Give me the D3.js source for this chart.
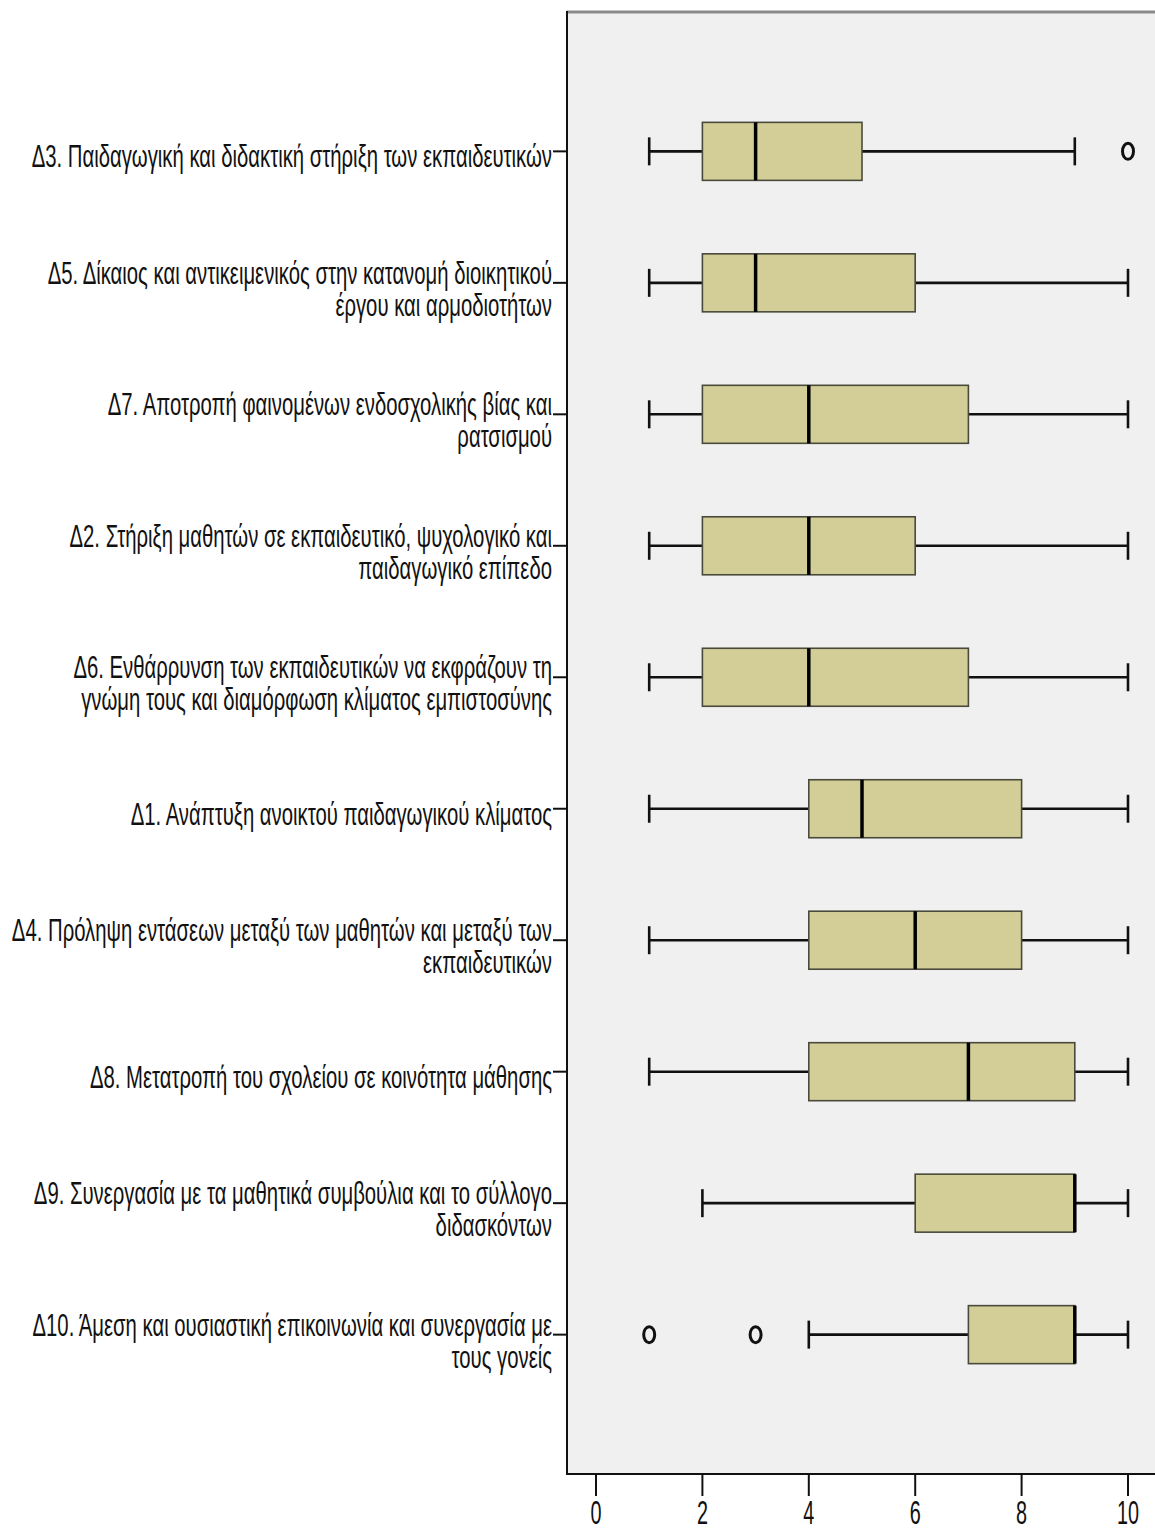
<!DOCTYPE html>
<html>
<head>
<meta charset="utf-8">
<script src="https://cdn.jsdelivr.net/npm/d3@7"></script>
<style>
  body { margin: 0; background: #fff; }
  text { font-family: "Liberation Sans", Arial, sans-serif; fill: #111; }
</style>
</head>
<body>
<div id="chart"></div>
<script>
  'use strict';

  // categories, top to bottom (each label split in lines as in the original)
  const labels = [
    ['Δ3. Παιδαγωγική και διδακτική στήριξη των εκπαιδευτικών'],
    ['Δ5. Δίκαιος και αντικειμενικός στην κατανομή διοικητικού', 'έργου και αρμοδιοτήτων'],
    ['Δ7. Αποτροπή φαινομένων ενδοσχολικής βίας και', 'ρατσισμού'],
    ['Δ2. Στήριξη μαθητών σε εκπαιδευτικό, ψυχολογικό και', 'παιδαγωγικό επίπεδο'],
    ['Δ6. Ενθάρρυνση των εκπαιδευτικών να εκφράζουν τη', 'γνώμη τους και διαμόρφωση κλίματος εμπιστοσύνης'],
    ['Δ1. Ανάπτυξη ανοικτού παιδαγωγικού κλίματος'],
    ['Δ4. Πρόληψη εντάσεων μεταξύ των μαθητών και μεταξύ των', 'εκπαιδευτικών'],
    ['Δ8. Μετατροπή του σχολείου σε κοινότητα μάθησης'],
    ['Δ9. Συνεργασία με τα μαθητικά συμβούλια και το σύλλογο', 'διδασκόντων'],
    ['Δ10. Άμεση και ουσιαστική επικοινωνία και συνεργασία με', 'τους γονείς']
  ];

  // five number summaries
  const mins    = [1, 1, 1, 1, 1, 1, 1, 1, 2, 4];
  const q1s     = [2, 2, 2, 2, 2, 4, 4, 4, 6, 7];
  const medians = [3, 3, 4, 4, 4, 5, 6, 7, 9, 9];
  const q3s     = [5, 6, 7, 6, 7, 8, 8, 9, 9, 9];
  const maxs    = [9, 10, 10, 10, 10, 10, 10, 10, 10, 10];
  const outliers = [[10], [], [], [], [], [], [], [], [], [1, 3]];

  const xTicks = [0, 2, 4, 6, 8, 10];

  const W = 1155, H = 1532;
  const plotLeft = 567, plotTop = 12, plotBottom = 1474;

  const svg = d3.select('#chart').append('svg')
    .attr('width', W)
    .attr('height', H);

  const x = d3.scaleLinear().domain([0, 10]).range([596, 1128]);
  const y = d3.scalePoint().domain(d3.range(labels.length)).range([plotTop, plotBottom]).padding(1.06);

  const boxH = 58;
  const capH = 28;

  // plot background
  svg.append('rect')
    .attr('x', plotLeft).attr('y', plotTop)
    .attr('width', W - plotLeft + 10).attr('height', plotBottom - plotTop)
    .attr('fill', '#f0f0f0');

  svg.append('line')
    .attr('x1', plotLeft).attr('x2', W)
    .attr('y1', plotTop).attr('y2', plotTop)
    .attr('stroke', '#8a8a8a').attr('stroke-width', 3);

  const rows = svg.append('g').selectAll('g')
    .data(labels.map((l, i) => i))
    .enter()
    .append('g')
    .attr('transform', i => `translate(0, ${y(i)})`);

  // whiskers
  rows.append('line')
    .attr('x1', i => x(mins[i])).attr('x2', i => x(maxs[i]))
    .attr('y1', 0).attr('y2', 0)
    .attr('stroke', '#111').attr('stroke-width', 2.6);

  rows.selectAll('.cap')
    .data(i => [mins[i], maxs[i]])
    .enter()
    .append('line')
    .attr('class', 'cap')
    .attr('x1', d => x(d)).attr('x2', d => x(d))
    .attr('y1', -capH / 2).attr('y2', capH / 2)
    .attr('stroke', '#111').attr('stroke-width', 2.6);

  // boxes
  rows.append('rect')
    .attr('x', i => x(q1s[i]))
    .attr('width', i => x(q3s[i]) - x(q1s[i]))
    .attr('y', -boxH / 2).attr('height', boxH)
    .attr('fill', '#d3ce97')
    .attr('stroke', '#4a4a3c').attr('stroke-width', 1.6);

  rows.append('line')
    .attr('x1', i => x(medians[i])).attr('x2', i => x(medians[i]))
    .attr('y1', -boxH / 2).attr('y2', boxH / 2)
    .attr('stroke', '#000').attr('stroke-width', 3.5);

  // outliers (the picture is stretched vertically, so they look like tall O's)
  rows.selectAll('ellipse')
    .data(i => outliers[i])
    .enter()
    .append('ellipse')
    .attr('cx', d => x(d))
    .attr('cy', 0)
    .attr('rx', 5.5)
    .attr('ry', 8)
    .attr('fill', 'none')
    .attr('stroke', '#111')
    .attr('stroke-width', 3);

  // category ticks + labels
  rows.append('line')
    .attr('x1', 553).attr('x2', plotLeft)
    .attr('y1', 0).attr('y2', 0)
    .attr('stroke', '#111').attr('stroke-width', 2);

  const sx = 0.655;
  rows.append('g')
    .attr('transform', `translate(552, 0) scale(${sx}, 1)`)
    .selectAll('text')
    .data(i => labels[i].map((t, k) => ({ t, k, n: labels[i].length })))
    .enter()
    .append('text')
    .attr('text-anchor', 'end')
    .attr('font-size', 31)
    .attr('y', d => d.n === 1 ? 16 : 1 + d.k * 32)
    .text(d => d.t);

  // frame
  svg.append('line')
    .attr('x1', plotLeft).attr('x2', plotLeft)
    .attr('y1', plotTop - 1).attr('y2', plotBottom + 1)
    .attr('stroke', '#111').attr('stroke-width', 2);
  svg.append('line')
    .attr('x1', plotLeft).attr('x2', W)
    .attr('y1', plotBottom).attr('y2', plotBottom)
    .attr('stroke', '#111').attr('stroke-width', 2);

  // x axis
  const ax = svg.append('g').selectAll('g')
    .data(xTicks)
    .enter()
    .append('g')
    .attr('transform', d => `translate(${x(d)}, ${plotBottom})`);

  ax.append('line')
    .attr('y1', 0).attr('y2', 22)
    .attr('stroke', '#111').attr('stroke-width', 2);

  ax.append('text')
    .attr('transform', 'translate(0, 50) scale(0.66, 1.1)')
    .attr('text-anchor', 'middle')
    .attr('font-size', 30)
    .text(d => d);
</script>
</body>
</html>
